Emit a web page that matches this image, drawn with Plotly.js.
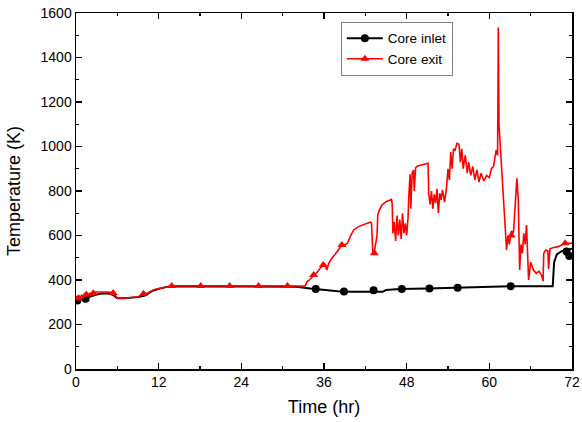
<!DOCTYPE html>
<html>
<head>
<meta charset="utf-8">
<script src="https://cdn.plot.ly/plotly-3.0.1.min.js"></script>
<style>html,body{margin:0;padding:0;background:#fff;}#chart{width:582px;height:422px;}</style>
</head>
<body>
<div id="chart"></div>
<script>
// Core inlet temperature (K) vs time (hr)
var inletTime = [0, 0.5, 1, 2, 3, 4, 5, 5.5, 6, 7, 8, 9, 10, 11, 12, 13, 14, 20, 30, 32, 34, 36, 38, 40, 44.5, 45, 47, 51, 55, 60, 63, 69.2, 69.4, 69.8, 70.5, 72];
var inletTemp = [305, 310, 315, 325, 335, 340, 338, 330, 318, 318, 320, 323, 330, 350, 360, 368, 372, 372, 372, 370, 362, 355, 350, 347, 347, 355, 360, 362, 365, 368, 372, 372, 480, 515, 530, 540];
var inletMarkTime = [0.2, 1.4, 34.8, 38.9, 43.2, 47.3, 51.3, 55.4, 63.1, 71.2, 71.6];
var inletMarkTemp = [308, 316, 359, 348, 354, 360, 362, 365, 372, 528, 508];

// Core exit temperature (K) vs time (hr)
var exitTime = [0, 0.15, 0.3, 0.45, 0.6, 0.8, 1.0, 1.2, 1.4, 1.6, 1.8, 2.0, 2.3, 2.5, 3.0, 3.5, 4.0, 4.5, 5.0, 5.4, 5.7, 6.0, 7.0, 8.0, 9.0, 9.5, 9.8, 10.3, 10.8, 11.3, 12.0, 12.8, 13.9, 33.3,
  33.5, 33.8, 34.2, 34.5, 35.0, 35.5, 35.9, 36.2, 36.4, 36.7, 37.0, 37.6, 38.2, 38.6, 39.0, 39.4, 39.8, 40.3, 41.0, 42.0, 42.7, 42.9, 43.0, 43.1, 43.3, 43.5, 43.7, 43.8, 44.0, 44.4, 45.0, 45.8, 45.9,
  46.0, 46.2, 46.4, 46.6, 46.8, 47.0, 47.2, 47.4, 47.6, 47.8, 48.0, 48.2, 48.3, 48.5, 48.6, 48.8, 49.0, 49.1, 49.3, 49.6, 51.1, 51.2, 51.4, 51.6, 51.8, 52.0, 52.2, 52.4, 52.6, 52.8, 53.0, 53.2, 53.5, 53.8,
  54.0, 54.2, 54.4, 54.6, 54.8, 55.0, 55.3, 55.6, 55.8, 56.0, 56.2, 56.5, 56.8, 57.0, 57.3, 57.6, 57.9, 58.2, 58.5, 58.8, 59.2, 59.6, 60.0, 60.3, 60.6, 61.0, 61.2, 61.3, 61.4, 61.6, 61.8, 62.0, 62.3,
  62.5, 62.7, 62.9, 63.2, 63.5, 63.8, 64.0, 64.2, 64.4, 64.6, 64.8, 65.0, 65.2, 65.4, 65.6, 65.7, 66.0, 66.4, 66.8, 67.2, 67.6, 67.8, 67.9, 68.2, 68.5, 68.6, 68.8, 69.2, 70.0, 71.0, 72.0];
var exitTemp = [312, 326, 308, 331, 314, 334, 318, 338, 326, 342, 330, 340, 336, 346, 346, 347, 347, 346, 345, 342, 330, 318, 318, 320, 325, 332, 338, 340, 348, 356, 362, 368, 373, 373,
  392, 398, 410, 422, 435, 455, 467, 470, 445, 475, 492, 515, 540, 557, 558, 565, 595, 625, 640, 650, 660, 655, 560, 515, 525, 560, 600, 690, 712, 737, 752, 762, 740,
  610, 660, 575, 690, 600, 672, 585, 700, 610, 655, 600, 680, 770, 875, 720, 880, 894, 800, 905, 912, 925, 790, 740, 800, 720, 785, 745, 810, 700, 790, 760, 805, 750, 820,
  900, 850, 975, 900, 990, 980, 1014, 1010, 930, 990, 900, 960, 880, 930, 870, 910, 850, 895, 840, 880, 845, 870, 860, 900, 910, 985, 960, 1535, 1100, 990, 880, 760, 620,
  535, 600, 560, 620, 610, 760, 857, 760, 445, 560, 520, 610, 560, 647, 520, 400, 480, 445, 430, 440, 420, 395, 520, 535, 530, 450, 540, 545, 550, 565, 565];
var exitMarkTime = [0.3, 1.5, 2.5, 5.4, 9.8, 13.9, 18.1, 22.3, 26.5, 30.7, 34.5, 35.9, 38.6, 43.3, 63.2, 71.0];
var exitMarkTemp = [318, 335, 340, 342, 338, 373, 373, 373, 373, 373, 422, 467, 557, 520, 600, 565];

var xTicks = [0, 12, 24, 36, 48, 60, 72];
var yTicks = [0, 200, 400, 600, 800, 1000, 1200, 1400, 1600];

var traces = [
  {x: inletTime, y: inletTemp, mode: 'lines', line: {color: '#000000', width: 2}, showlegend: false, hoverinfo: 'skip'},
  {x: inletMarkTime, y: inletMarkTemp, mode: 'markers', marker: {color: '#000000', symbol: 'circle', size: 8}, showlegend: false},
  {x: exitTime, y: exitTemp, mode: 'lines', line: {color: '#ff0000', width: 1.6}, showlegend: false, hoverinfo: 'skip'},
  {x: exitMarkTime, y: exitMarkTemp, mode: 'markers', marker: {color: '#ff0000', symbol: 'triangle-up', size: 8}, showlegend: false},
  {x: [null], y: [null], mode: 'lines+markers', name: 'Core inlet', line: {color: '#000000', width: 2}, marker: {color: '#000000', symbol: 'circle', size: 8}},
  {x: [null], y: [null], mode: 'lines+markers', name: 'Core exit', line: {color: '#ff0000', width: 1.6}, marker: {color: '#ff0000', symbol: 'triangle-up', size: 8}}
];

var FONT = 'Liberation Sans, Arial, sans-serif';
var axisCommon = {
  showgrid: false, zeroline: false, showline: true, linecolor: '#000000', linewidth: 1.5,
  mirror: 'ticks', ticks: 'inside', ticklen: 6, tickwidth: 1.5, tickcolor: '#000000',
  tickfont: {family: FONT, size: 14, color: '#000000'}
};

var layout = {
  width: 582, height: 422,
  margin: {l: 76, r: 10, t: 13, b: 53},
  paper_bgcolor: '#ffffff', plot_bgcolor: '#ffffff',
  font: {family: FONT, color: '#000000'},
  xaxis: Object.assign({}, axisCommon, {
    range: [0, 72], tickvals: xTicks, ticktext: xTicks.map(String),
    minor: {dtick: 6, tick0: 0, ticks: 'inside', ticklen: 3, tickwidth: 1.2, tickcolor: '#000000'},
    title: {text: 'Time (hr)', font: {size: 18, family: FONT}, standoff: 11}
  }),
  yaxis: Object.assign({}, axisCommon, {
    range: [0, 1600], tickvals: yTicks, ticktext: yTicks.map(String),
    minor: {dtick: 100, tick0: 0, ticks: 'inside', ticklen: 3, tickwidth: 1.2, tickcolor: '#000000'},
    title: {text: 'Temperature (K)', font: {size: 18, family: FONT}, standoff: 15}
  }),
  legend: {
    x: 0.534, y: 0.975, xanchor: 'left', yanchor: 'top',
    bgcolor: '#ffffff', bordercolor: '#808080', borderwidth: 1,
    font: {size: 13.5, family: FONT, color: '#000000'},
    tracegroupgap: 0, itemwidth: 36
  },
  showlegend: true
};

Plotly.newPlot('chart', traces, layout, {displayModeBar: false, staticPlot: true});
</script>
</body>
</html>
